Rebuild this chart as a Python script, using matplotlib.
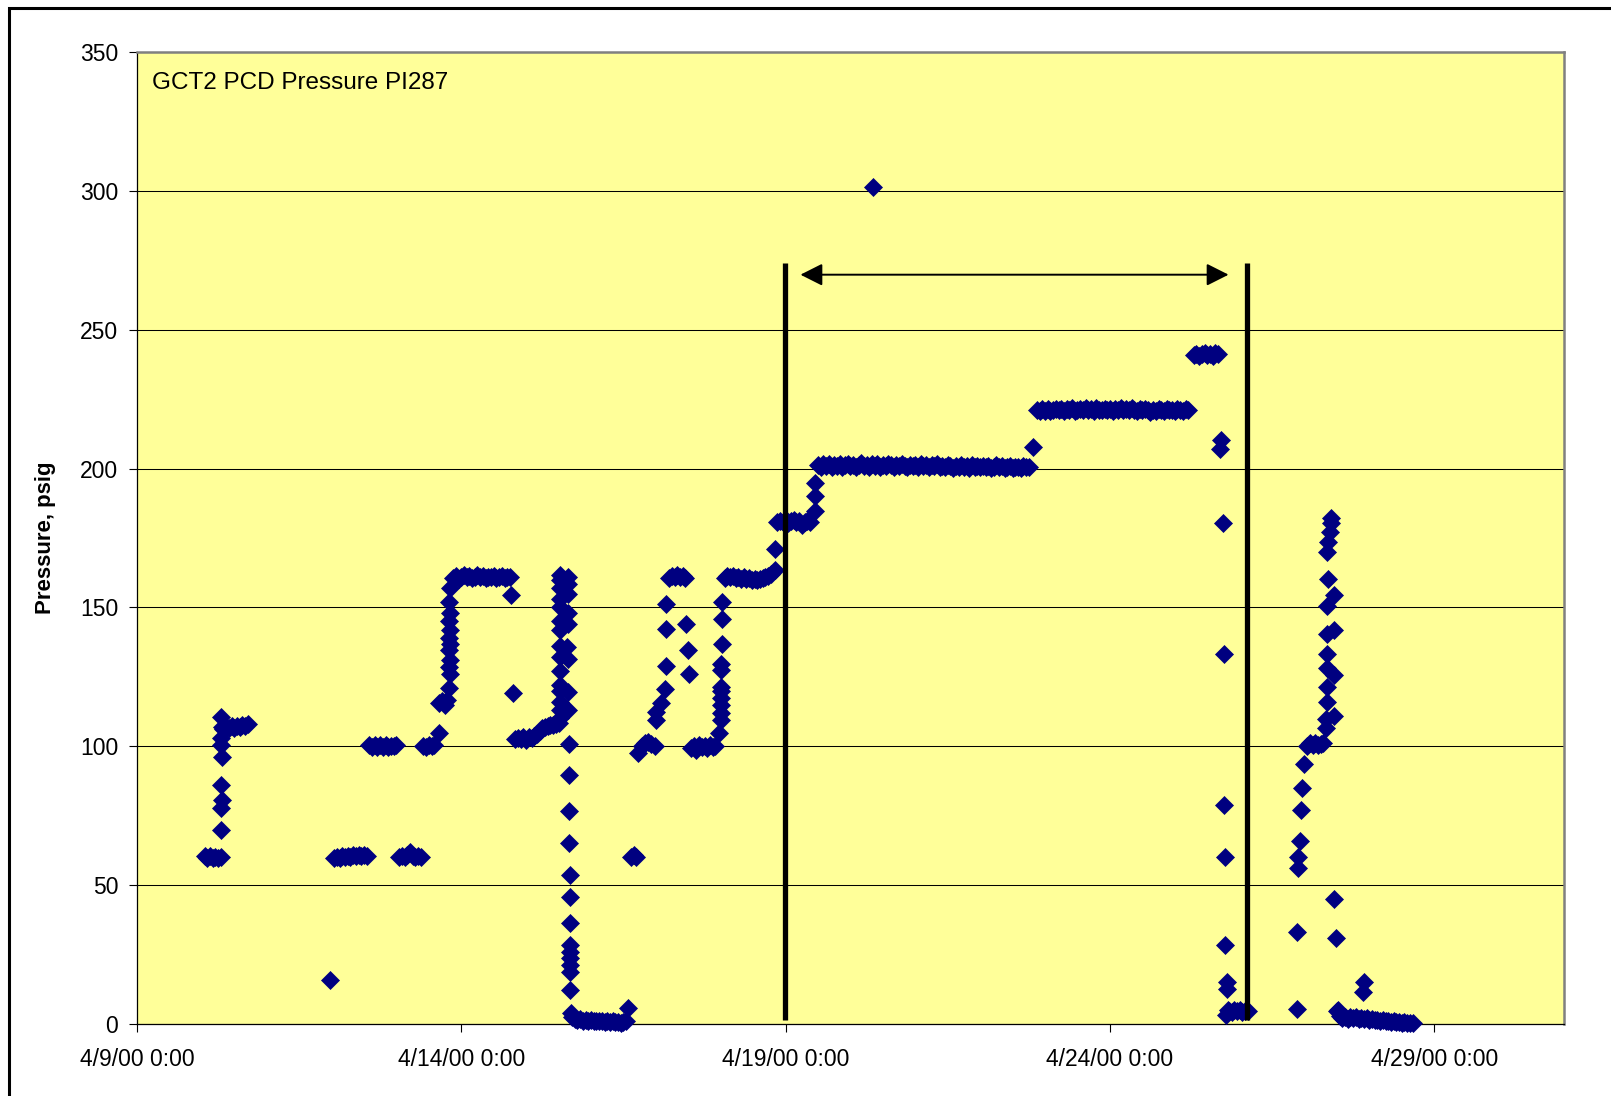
import matplotlib.pyplot as plt
from matplotlib.patches import Rectangle

# readings: hours after 4/9/00 0:00 and pressure in psig
hours = [
    # 4/10: 60 -> 107
    25, 26, 27, 28, 29, 30, 31,
    31.2, 31.2, 31.4, 31.2, 31.4, 31.2, 31.2, 31.4, 31.2,
    32, 33, 34, 35, 36, 37, 38, 39, 40, 41,
    # 4/12 - 4/13
    71.5,
    73, 74, 75, 76, 77, 78, 79, 80, 81, 82, 83, 84, 85,
    86, 87, 88, 89, 90, 91, 92, 93, 94, 95, 96,
    97, 98, 99, 100, 101, 102, 103, 104, 105,
    106, 107, 108, 109, 110,
    111.6, 111.8, 112.8, 113.8, 114.7,
    115.6, 115.8, 115.6, 115.8, 115.6, 115.8, 115.6, 115.8, 115.6, 115.8, 115.6, 115.8,
    # 160 plateau 4/13 - 4/14
    117, 118, 119, 120, 121, 122, 123, 124, 125, 126, 127, 128, 129, 130, 131,
    132, 133, 134, 135, 136, 137, 138,
    138.5, 139.2,
    140, 141, 142, 143, 144, 145, 146, 147, 148, 149, 150, 151, 152, 153, 154,
    155, 156,
    156.7, 156.7, 156.5, 156.7, 156.5, 156.7, 156.5, 156.7, 156.5, 156.7, 156.5,
    156.7, 156.7, 156.5, 156.7,
    159.4, 159.6, 159.4, 159.6, 159.4, 159.1, 159.6, 159.4, 159.6, 159.8, 159.8,
    159.8, 159.8, 160.1, 160.1, 160.1, 160.1, 160.1, 160.1, 160.3, 160.3, 160.3,
    160.6,
    # 4/15 - 4/16 zero
    161, 162, 163, 164, 165, 166, 167, 168, 169, 170, 171, 172, 173, 174, 175,
    176, 177, 178, 179, 180, 181,
    181.7,
    182.9, 183.8, 184.8,
    185.5, 186.7, 187.9, 189.1, 190.3, 191.5,
    192.2, 192.2, 193.9, 195.4, 195.8, 195.8, 195.8,
    197, 198, 199, 200, 201, 202, 202.6,
    203.0, 203.8, 204.2,
    205, 206, 207, 208, 209, 210, 211, 212, 213, 214,
    215.3, 216.2, 216.2, 216.2, 216.2, 216.2, 216.2, 216.2, 216.2, 216.5, 216.5, 216.5,
    217.5, 218.5, 219.5, 220.5, 221.5, 222.5, 223.5, 224.5, 225.5, 226.5, 227.5,
    228.5, 229.5, 230.5, 231.5, 232.5, 233.5, 234.5,
    235.9, 236.2,
    # 180 -> 200
    237, 238, 239, 240, 241, 242, 243, 244, 245, 246, 247, 248, 249,
    250.8, 250.8, 251.0,
    252, 253, 254, 255, 256, 257, 258, 259, 260, 261,
    262, 263, 264, 265, 266, 267, 268, 269, 270, 271,
    272, 273, 274, 275, 276, 277, 278, 279, 280, 281,
    282, 283, 284, 285, 286, 287, 288, 289, 290, 291,
    292, 293, 294, 295, 296, 297, 298, 299, 300, 301,
    302, 303, 304, 305, 306, 307, 308, 309, 310, 311,
    312, 313, 314, 315, 316, 317, 318, 319, 320, 321,
    322, 323, 324, 325, 326, 327, 328, 329, 330,
    272.4,
    331.4,
    # 220
    333, 334, 335, 336, 337, 338, 339, 340, 341, 342,
    343, 344, 345, 346, 347, 348, 349, 350, 351, 352,
    353, 354, 355, 356, 357, 358, 359, 360, 361, 362,
    363, 364, 365, 366, 367, 368, 369, 370, 371, 372,
    373, 374, 375, 376, 377, 378, 379, 380, 381, 382,
    383, 384, 385, 386, 387, 388, 389,
    # 240 and drop
    391, 392, 393, 394, 395, 396, 397, 398, 399, 400,
    401.0, 400.6, 402.0, 402.2, 402.2, 402.5, 402.5, 403.2, 403.2, 403.0,
    403.7, 404, 405, 406, 407, 408, 409, 410, 411,
    # 4/27 - 4/28
    429.1, 429.1,
    429.6, 429.6, 430.3, 430.8, 431.0, 431.8,
    433, 434, 435, 436, 437, 438, 439,
    440.0, 440.0, 440.2, 440.2, 440.2, 440.2, 440.4, 440.4, 440.6, 440.4,
    440.6, 441.6, 441.8, 441.8,
    443.0, 443.0, 443.0, 443.0,
    443.0, 443.5, 444.2, 444.5,
    454.1, 453.6,
    445, 446, 447, 448, 449, 450, 451, 452, 453, 454, 455, 456, 457, 458,
    459, 460, 461, 462, 463, 464, 465, 466, 467, 468, 469, 470, 471, 472,
]

psi = [
    60.4, 59.7, 60.5, 59.8, 60.3, 59.9, 60.2,
    70.0, 77.6, 80.6, 86.0, 96.2, 100.4, 102.8, 107.0, 110.5,
    106.2, 107.0, 106.5, 107.3, 106.7, 107.2, 106.9, 107.6, 107.4, 108.0,
    15.8,
    59.6, 60.3, 59.8, 60.5, 60.0, 60.6, 60.2, 60.7, 60.4, 60.9, 60.5, 60.8, 60.6,
    100.4, 99.8, 100.5, 99.9, 100.3, 99.7, 100.4, 99.8, 100.2, 100.0, 100.3,
    60.0, 60.5, 60.3, 60.8, 62.0, 60.6, 60.2, 60.5, 60.3,
    100.2, 99.8, 100.4, 100.0, 100.5,
    104.6, 115.5, 116.2, 115.0, 116.5,
    121.0, 126.0, 128.5, 131.0, 134.5, 137.0, 139.0, 141.7, 145.0, 148.0, 152.0, 157.0,
    160.6, 161.2, 160.4, 161.0, 161.5, 160.8, 161.3, 160.6, 161.0, 161.6, 160.9,
    161.2, 160.5, 161.1, 160.8, 161.4, 160.7, 161.0, 161.3, 160.6, 161.1, 160.8,
    154.3, 119.2,
    102.5, 103.0, 102.6, 103.2, 102.2, 103.4, 103.0, 103.8, 104.5, 105.5, 106.5,
    107.0, 107.4, 107.8, 107.5, 108.0, 108.5,
    110.3, 113.0, 116.0, 120.0, 122.0, 127.0, 132.0, 136.0, 142.0, 145.0, 150.0,
    153.0, 157.0, 160.0, 161.5,
    161.0, 158.5, 155.0, 148.0, 144.0, 135.7, 131.6, 119.5, 113.0, 100.7, 89.8,
    76.7, 65.0, 53.6, 45.6, 36.4, 28.4, 26.0, 23.6, 21.2, 18.8, 12.2,
    3.9,
    2.4, 1.8, 1.5, 1.7, 1.2, 1.4, 1.1, 1.3, 1.0, 1.2, 0.9, 1.1, 0.8, 1.0, 0.7,
    0.9, 0.6, 0.8, 0.5, 0.7, 0.9,
    5.8,
    60.0, 60.8, 60.2,
    97.5, 100.0, 101.2, 101.5, 100.8, 100.2,
    109.4, 112.3, 115.4, 120.7, 128.8, 142.3, 151.3,
    160.6, 161.4, 160.9, 161.5, 160.8, 161.2, 160.7,
    144.0, 134.8, 125.9,
    99.4, 100.2, 98.6, 100.4, 99.6, 100.1, 99.3, 100.5, 99.8, 100.2,
    104.6, 109.4, 112.0, 114.8, 117.4, 120.0, 121.3, 127.3, 129.7, 137.0, 146.0, 152.0,
    160.6, 161.2, 160.8, 161.4, 160.5, 161.0, 160.3, 160.8, 160.2, 160.6, 160.0,
    160.4, 159.8, 160.3, 160.6, 160.9, 161.4, 162.0,
    163.3, 171.0,
    180.6, 181.2, 180.8, 181.4, 180.5, 181.0, 181.3, 180.7, 181.1, 179.8, 180.9,
    181.2, 180.6,
    184.8, 190.0, 194.7,
    201.2, 200.6, 201.5, 200.9, 201.8, 200.7, 201.3, 201.0, 201.6, 200.5,
    201.1, 201.7, 200.8, 201.4, 200.6, 201.2, 201.9, 200.9, 201.3, 200.7,
    201.5, 201.0, 201.8, 200.6, 201.2, 200.9, 201.6, 201.1, 200.4, 201.3,
    200.8, 201.7, 201.0, 200.5, 201.4, 200.9, 201.2, 200.6, 201.5, 200.8,
    201.1, 200.4, 201.3, 200.9, 201.6, 200.7, 201.0, 200.5, 201.2, 200.8,
    200.3, 201.0, 200.7, 201.4, 200.6, 200.9, 200.2, 201.1, 200.6, 200.8,
    200.4, 201.0, 200.5, 200.9, 200.3, 200.7, 201.1, 200.4, 200.8, 200.2,
    200.6, 200.9, 200.3, 200.7, 200.5, 200.2, 200.8, 200.4, 200.6,
    301.4,
    207.9,
    221.0, 220.6, 221.3, 220.8, 221.5, 220.7, 221.1, 221.6, 220.9, 221.3,
    220.7, 221.4, 221.0, 221.8, 220.8, 221.2, 221.5, 220.9, 221.7, 221.1,
    221.4, 220.8, 221.9, 221.2, 220.9, 221.6, 221.0, 221.3, 220.7, 221.5,
    221.1, 221.8, 220.9, 221.4, 221.0, 221.7, 221.2, 220.6, 221.3, 220.9,
    221.5, 221.0, 220.5, 221.2, 220.8, 221.4, 221.0, 220.6, 221.3, 220.9,
    221.2, 220.7, 221.4, 221.0, 220.8, 221.3, 221.0,
    240.8, 241.4, 240.6, 241.2, 241.6, 240.9, 241.3, 240.7, 241.5, 241.1,
    210.3, 207.1, 180.5, 133.1, 79.0, 60.0, 28.4, 15.0, 12.5, 3.2,
    5.0, 4.8, 4.4, 5.1, 4.6, 4.9, 4.3, 4.7, 4.5,
    33.3, 5.3,
    56.3, 60.0, 65.8, 77.0, 84.9, 93.5,
    100.0, 101.0, 100.3, 101.2, 100.4, 100.9, 101.0,
    106.5, 109.7, 115.8, 121.4, 128.2, 133.2, 140.6, 150.5, 160.4, 169.8,
    173.5, 177.2, 180.3, 182.1,
    110.8, 125.7, 141.8, 154.3,
    44.9, 30.8, 4.8, 5.0,
    15.3, 11.6,
    2.8, 2.2, 2.6, 1.9, 2.5, 2.1, 2.4, 1.8, 2.2, 1.7, 2.0, 1.6, 1.8, 1.4,
    1.6, 1.2, 1.4, 1.0, 1.2, 0.8, 1.0, 0.6, 0.8, 0.4, 0.6, 0.3, 0.5, 0.4,
]

x_ticks = [0, 120, 240, 360, 480]
x_tick_labels = ['4/9/00 0:00', '4/14/00 0:00', '4/19/00 0:00', '4/24/00 0:00', '4/29/00 0:00']
y_ticks = [0, 50, 100, 150, 200, 250, 300, 350]

# marked test window (hours)
window_start = 239.8
window_end = 410.6
window_top = 274
arrow_left, arrow_right, arrow_y = 245.5, 403.9, 269.8

plt.rcParams['font.family'] = ['Liberation Sans', 'DejaVu Sans']

fig = plt.figure(figsize=(16.11, 10.96), dpi=100)
ax = fig.add_axes([0.0850, 0.0657, 0.8858, 0.8869])

fig.patches.append(Rectangle((9 / 1611, -0.2), 1.2, 1.2 - 8 / 1096,
                             transform=fig.transFigure, fill=False,
                             edgecolor='black', linewidth=2.2))

ax.set_facecolor('#FFFF99')
ax.set_xlim(0, 528)
ax.set_ylim(0, 350)
ax.set_yticks(y_ticks)
ax.set_xticks(x_ticks)
ax.set_xticklabels(x_tick_labels)
ax.tick_params(axis='both', direction='out', length=5.5, width=0.8, labelsize=16.5, colors='black')
ax.tick_params(axis='x', pad=12)
ax.tick_params(axis='y', pad=8)

ax.yaxis.grid(True, color='black', linewidth=0.75)
ax.set_axisbelow(True)

for s in ['top', 'right']:
    ax.spines[s].set_color('#808080')
    ax.spines[s].set_linewidth(1.8)
for s in ['left', 'bottom']:
    ax.spines[s].set_color('black')
    ax.spines[s].set_linewidth(0.9)

ax.plot(hours, psi, linestyle='none', marker='D', markersize=8.8,
        markerfacecolor='#000080', markeredgecolor='#000080', markeredgewidth=0.5,
        clip_on=False, zorder=3)

ax.plot([window_start, window_start], [1.5, window_top], color='black', linewidth=3.8,
        solid_capstyle='butt', zorder=4)
ax.plot([window_end, window_end], [1.5, window_top], color='black', linewidth=3.8,
        solid_capstyle='butt', zorder=4)
ax.annotate('', xy=(arrow_right, arrow_y), xytext=(arrow_left, arrow_y),
            arrowprops=dict(arrowstyle='<|-|>,head_length=13.5,head_width=6.8',
                            mutation_scale=1, color='black', linewidth=1.4,
                            shrinkA=0, shrinkB=0), zorder=4)

ax.text(0.0105, 0.968, 'GCT2 PCD Pressure PI287', transform=ax.transAxes,
        fontsize=17.5, ha='left', va='center')
ax.set_ylabel('Pressure, psig', fontsize=16, fontweight='bold', labelpad=17)

fig.savefig('out.png', dpi=100)
